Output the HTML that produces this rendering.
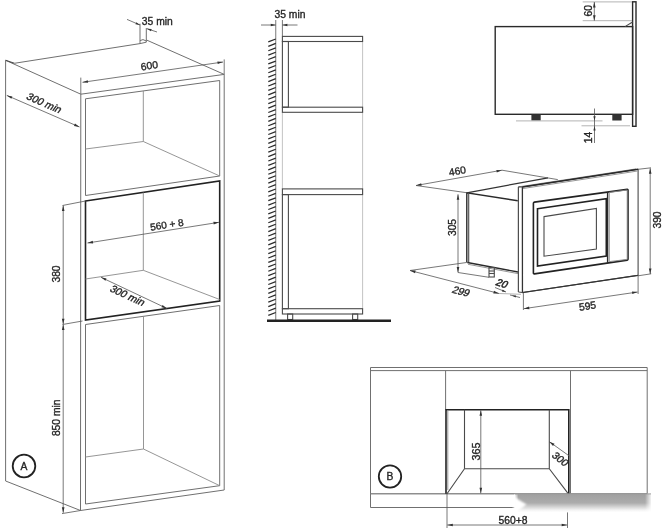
<!DOCTYPE html>
<html><head><meta charset="utf-8"><title>Installation dimensions</title>
<style>
html,body{margin:0;padding:0;background:#fff;}
svg{display:block;will-change:transform;}
text{font-family:"Liberation Sans",sans-serif;fill:#262626;stroke:#262626;stroke-width:.35;}
.thin{stroke:#707070;stroke-width:1;fill:none;}
.lt{stroke:#8a8a8a;stroke-width:.9;fill:none;}
.vvlt{stroke:#bcbcbc;stroke-width:.9;fill:none;}
.vlt{stroke:#aaa;stroke-width:.9;fill:none;}
.mid{stroke:#4a4a4a;stroke-width:1.1;fill:none;}
.dk2{stroke:#333;stroke-width:1.2;fill:none;}
.dark{stroke:#2a2a2a;stroke-width:1.4;fill:none;}
.thick{stroke:#222;stroke-width:1.6;fill:none;}
.dim{stroke:#555;stroke-width:.8;fill:none;}
.hatch{stroke:#2a2a2a;stroke-width:1.25;fill:none;}
.floor{stroke:#222;stroke-width:2.6;fill:none;}
.ah{fill:#333;stroke:none;}
.fill{fill:#333;stroke:none;}
.circ{stroke:#222;stroke-width:1.8;fill:none;}
</style></head><body>
<svg width="664" height="531" viewBox="0 0 664 531">
<defs>
<linearGradient id="sm" x1="0" y1="0" x2="0" y2="1"><stop offset="0" stop-color="#9a9a9a"/><stop offset=".1" stop-color="#a2a2a2"/><stop offset=".5" stop-color="#acacac"/><stop offset=".7" stop-color="#d2d2d2"/><stop offset=".88" stop-color="#f4f4f4"/><stop offset="1" stop-color="#fff"/></linearGradient>
<linearGradient id="fl" x1="0" y1="0" x2="1" y2="0"><stop offset="0" stop-color="#fff" stop-opacity="1"/><stop offset="1" stop-color="#fff" stop-opacity="0"/></linearGradient>
<linearGradient id="fr" x1="0" y1="0" x2="1" y2="0"><stop offset="0" stop-color="#fff" stop-opacity="0"/><stop offset="1" stop-color="#fff" stop-opacity="1"/></linearGradient>
<filter id="bl" x="-10%" y="-30%" width="120%" height="160%"><feGaussianBlur stdDeviation="1.2"/></filter>
</defs>
<rect width="664" height="531" fill="#fff"/>
<path class="thin" d="M80.8,94.2 L5.6,60.3 L5.6,481 L80.5,510.5"/>
<path class="mid" d="M5.6,60.3 L14.3,63.3"/>
<path class="thin" d="M14.3,63.3 L140,43.6"/>
<path class="thin" d="M146.5,40 L224.2,74.4"/>
<path class="thin" d="M140,23.7 L140,43.6 L146.3,42.2 L146.3,28"/>
<path class="thin" d="M140,40.6 L143,39.6 L146.3,41"/>
<path class="thin" d="M80.8,94.2 L224.2,74.4 L224.2,490 L80.5,510.5 L80.8,94.2"/>
<path class="thin" d="M85.5,98.8 L219.7,80.5 L219.7,176 L85.5,195.5 Z"/>
<path class="lt" d="M143.3,91 L143.3,141.5"/>
<path class="lt" d="M85.5,149 L143.3,141.5 L219.7,176"/>
<path class="thick" d="M85.5,201 L219.7,181 L219.7,301 L85.5,320 Z"/>
<path class="lt" d="M143.3,192.5 L143.3,270.3"/>
<path class="lt" d="M85.5,279 L143.3,270.3 L219.7,299.5"/>
<path class="thin" d="M85.5,324.5 L219.7,305.5 L219.7,485.7 L85.5,504 Z"/>
<path class="lt" d="M143.5,316.3 L143.5,449"/>
<path class="lt" d="M85.5,457 L143.5,449 L219.7,485.7"/>
<line class="dim" x1="6.8" y1="95.4" x2="79.5" y2="127"/>
<polygon class="ah" points="6.80,95.40 12.36,96.40 11.33,98.78"/>
<polygon class="ah" points="79.50,127.00 73.94,126.00 74.97,123.62"/>
<text transform="translate(42.3,106) rotate(24) skewX(-12)" font-size="10.3" text-anchor="middle" >300 min</text>
<line class="dim" x1="80.8" y1="77.6" x2="80.8" y2="94.2"/>
<line class="dim" x1="224.2" y1="59.4" x2="224.2" y2="74.4"/>
<line class="dim" x1="82.5" y1="82.3" x2="223" y2="62"/>
<polygon class="ah" points="82.50,82.30 87.76,80.23 88.13,82.80"/>
<polygon class="ah" points="223.00,62.00 217.74,64.07 217.37,61.50"/>
<text transform="translate(149.8,69.2) rotate(-8)" font-size="10.3" text-anchor="middle" >600</text>
<line class="dim" x1="127" y1="19.4" x2="140" y2="25"/>
<polygon class="ah" points="140.00,25.00 135.43,24.23 136.30,22.21"/>
<line class="dim" x1="157" y1="32" x2="147" y2="28.7"/>
<polygon class="ah" points="147.00,28.70 151.62,29.07 150.93,31.15"/>
<text transform="translate(157.3,24.7)" font-size="10.3" text-anchor="middle" >35 min</text>
<line class="dim" x1="62.5" y1="205.5" x2="85.5" y2="201"/>
<line class="dim" x1="62.5" y1="324.5" x2="82.5" y2="321"/>
<line class="dim" x1="62" y1="513.6" x2="80.5" y2="510.5"/>
<line class="dim" x1="63.2" y1="205.5" x2="63.2" y2="324.3"/>
<polygon class="ah" points="63.20,205.50 64.50,211.00 61.90,211.00"/>
<polygon class="ah" points="63.20,324.30 61.90,318.80 64.50,318.80"/>
<line class="dim" x1="63.2" y1="324.6" x2="63.2" y2="512.8"/>
<polygon class="ah" points="63.20,324.60 64.50,330.10 61.90,330.10"/>
<polygon class="ah" points="63.20,512.80 61.90,507.30 64.50,507.30"/>
<text transform="translate(59.5,274) rotate(-90)" font-size="10.3" text-anchor="middle" >380</text>
<text transform="translate(59.5,417.8) rotate(-90)" font-size="10.3" text-anchor="middle" >850 min</text>
<line class="dim" x1="87.5" y1="243" x2="219" y2="222.3"/>
<polygon class="ah" points="87.50,243.00 92.73,240.86 93.14,243.43"/>
<polygon class="ah" points="219.00,222.30 213.77,224.44 213.36,221.87"/>
<text transform="translate(167.3,228.2) rotate(-8.5)" font-size="10" text-anchor="middle" >560 + 8</text>
<line class="dim" x1="101" y1="277.3" x2="167" y2="308.5"/>
<polygon class="ah" points="101.00,277.30 106.53,278.48 105.42,280.83"/>
<polygon class="ah" points="167.00,308.50 161.47,307.32 162.58,304.97"/>
<text transform="translate(125.5,298.5) rotate(25) skewX(-12)" font-size="10.3" text-anchor="middle" >300 min</text>
<circle class="circ" cx="24" cy="466" r="11.3"/>
<text transform="translate(24,469.8)" font-size="10.3" text-anchor="middle" >A</text>
<line class="dim" x1="275.75" y1="20" x2="275.75" y2="320"/>
<line class="hatch" x1="268.3" y1="41.9" x2="275.75" y2="39.0"/>
<line class="hatch" x1="268.3" y1="46.31" x2="275.75" y2="43.41"/>
<line class="hatch" x1="268.3" y1="50.72" x2="275.75" y2="47.82"/>
<line class="hatch" x1="268.3" y1="55.13" x2="275.75" y2="52.23"/>
<line class="hatch" x1="268.3" y1="59.54" x2="275.75" y2="56.64"/>
<line class="hatch" x1="268.3" y1="63.95" x2="275.75" y2="61.05"/>
<line class="hatch" x1="268.3" y1="68.37" x2="275.75" y2="65.47"/>
<line class="hatch" x1="268.3" y1="72.78" x2="275.75" y2="69.88"/>
<line class="hatch" x1="268.3" y1="77.19" x2="275.75" y2="74.29"/>
<line class="hatch" x1="268.3" y1="81.6" x2="275.75" y2="78.7"/>
<line class="hatch" x1="268.3" y1="86.01" x2="275.75" y2="83.11"/>
<line class="hatch" x1="268.3" y1="90.42" x2="275.75" y2="87.52"/>
<line class="hatch" x1="268.3" y1="94.83" x2="275.75" y2="91.93"/>
<line class="hatch" x1="268.3" y1="99.24" x2="275.75" y2="96.34"/>
<line class="hatch" x1="268.3" y1="103.65" x2="275.75" y2="100.75"/>
<line class="hatch" x1="268.3" y1="108.06" x2="275.75" y2="105.16"/>
<line class="hatch" x1="268.3" y1="112.48" x2="275.75" y2="109.58"/>
<line class="hatch" x1="268.3" y1="116.89" x2="275.75" y2="113.99"/>
<line class="hatch" x1="268.3" y1="121.3" x2="275.75" y2="118.4"/>
<line class="hatch" x1="268.3" y1="125.71" x2="275.75" y2="122.81"/>
<line class="hatch" x1="268.3" y1="130.12" x2="275.75" y2="127.22"/>
<line class="hatch" x1="268.3" y1="134.53" x2="275.75" y2="131.63"/>
<line class="hatch" x1="268.3" y1="138.94" x2="275.75" y2="136.04"/>
<line class="hatch" x1="268.3" y1="143.35" x2="275.75" y2="140.45"/>
<line class="hatch" x1="268.3" y1="147.76" x2="275.75" y2="144.86"/>
<line class="hatch" x1="268.3" y1="152.17" x2="275.75" y2="149.27"/>
<line class="hatch" x1="268.3" y1="156.59" x2="275.75" y2="153.69"/>
<line class="hatch" x1="268.3" y1="161.0" x2="275.75" y2="158.1"/>
<line class="hatch" x1="268.3" y1="165.41" x2="275.75" y2="162.51"/>
<line class="hatch" x1="268.3" y1="169.82" x2="275.75" y2="166.92"/>
<line class="hatch" x1="268.3" y1="174.23" x2="275.75" y2="171.33"/>
<line class="hatch" x1="268.3" y1="178.64" x2="275.75" y2="175.74"/>
<line class="hatch" x1="268.3" y1="183.05" x2="275.75" y2="180.15"/>
<line class="hatch" x1="268.3" y1="187.46" x2="275.75" y2="184.56"/>
<line class="hatch" x1="268.3" y1="191.87" x2="275.75" y2="188.97"/>
<line class="hatch" x1="268.3" y1="196.28" x2="275.75" y2="193.38"/>
<line class="hatch" x1="268.3" y1="200.7" x2="275.75" y2="197.8"/>
<line class="hatch" x1="268.3" y1="205.11" x2="275.75" y2="202.21"/>
<line class="hatch" x1="268.3" y1="209.52" x2="275.75" y2="206.62"/>
<line class="hatch" x1="268.3" y1="213.93" x2="275.75" y2="211.03"/>
<line class="hatch" x1="268.3" y1="218.34" x2="275.75" y2="215.44"/>
<line class="hatch" x1="268.3" y1="222.75" x2="275.75" y2="219.85"/>
<line class="hatch" x1="268.3" y1="227.16" x2="275.75" y2="224.26"/>
<line class="hatch" x1="268.3" y1="231.57" x2="275.75" y2="228.67"/>
<line class="hatch" x1="268.3" y1="235.98" x2="275.75" y2="233.08"/>
<line class="hatch" x1="268.3" y1="240.39" x2="275.75" y2="237.49"/>
<line class="hatch" x1="268.3" y1="244.81" x2="275.75" y2="241.91"/>
<line class="hatch" x1="268.3" y1="249.22" x2="275.75" y2="246.32"/>
<line class="hatch" x1="268.3" y1="253.63" x2="275.75" y2="250.73"/>
<line class="hatch" x1="268.3" y1="258.04" x2="275.75" y2="255.14"/>
<line class="hatch" x1="268.3" y1="262.45" x2="275.75" y2="259.55"/>
<line class="hatch" x1="268.3" y1="266.86" x2="275.75" y2="263.96"/>
<line class="hatch" x1="268.3" y1="271.27" x2="275.75" y2="268.37"/>
<line class="hatch" x1="268.3" y1="275.68" x2="275.75" y2="272.78"/>
<line class="hatch" x1="268.3" y1="280.09" x2="275.75" y2="277.19"/>
<line class="hatch" x1="268.3" y1="284.5" x2="275.75" y2="281.61"/>
<line class="hatch" x1="268.3" y1="288.92" x2="275.75" y2="286.02"/>
<line class="hatch" x1="268.3" y1="293.33" x2="275.75" y2="290.43"/>
<line class="hatch" x1="268.3" y1="297.74" x2="275.75" y2="294.84"/>
<line class="hatch" x1="268.3" y1="302.15" x2="275.75" y2="299.25"/>
<line class="hatch" x1="268.3" y1="306.56" x2="275.75" y2="303.66"/>
<line class="hatch" x1="268.3" y1="310.97" x2="275.75" y2="308.07"/>
<line class="hatch" x1="268.3" y1="315.38" x2="275.75" y2="312.48"/>
<line class="dim" x1="282.4" y1="20" x2="282.4" y2="36"/>
<line class="vvlt" x1="282.4" y1="112" x2="282.4" y2="189"/>
<line class="vvlt" x1="362.6" y1="41" x2="362.6" y2="308.75"/>
<rect class="mid" x="282.4" y="36.4" width="80.20000000000005" height="5.100000000000001"/>
<rect class="mid" x="282.4" y="41.5" width="6.0" height="65.7"/>
<rect class="mid" x="282.4" y="107.2" width="80.20000000000005" height="5.099999999999994"/>
<rect class="mid" x="282.4" y="188.9" width="80.20000000000005" height="5.699999999999989"/>
<rect class="mid" x="282.4" y="194.6" width="6.0" height="114.1"/>
<rect class="mid" x="282.4" y="308.7" width="80.20000000000005" height="5.300000000000011"/>
<rect class="mid" x="287.6" y="314" width="5.099999999999966" height="5.5"/>
<rect class="mid" x="352.6" y="314" width="5.099999999999966" height="5.5"/>
<line class="floor" x1="267" y1="320.7" x2="391" y2="320.7"/>
<line class="dim" x1="261" y1="25" x2="275.75" y2="25"/>
<polygon class="ah" points="275.75,25.00 270.75,26.20 270.75,23.80"/>
<line class="dim" x1="282.4" y1="25" x2="297.5" y2="25"/>
<polygon class="ah" points="282.40,25.00 287.40,23.80 287.40,26.20"/>
<text transform="translate(290,18)" font-size="10.3" text-anchor="middle" >35 min</text>
<rect class="dark" x="495.2" y="26.6" width="137.40000000000003" height="87.69999999999999"/>
<rect class="dark" x="632.6" y="1.8" width="3.3999999999999773" height="124.5"/>
<line class="mid" x1="625" y1="26.6" x2="632.6" y2="22"/>
<rect class="fill" x="531.4" y="114.3" width="9.3" height="6.2"/>
<rect class="fill" x="612.3" y="114.3" width="9.3" height="6.2"/>
<line class="vlt" x1="582.7" y1="1.9" x2="632" y2="1.9"/>
<line class="vlt" x1="582.7" y1="20.7" x2="632" y2="20.7"/>
<line class="dim" x1="594.3" y1="2" x2="594.3" y2="20.7"/>
<polygon class="ah" points="594.30,2.00 595.60,7.50 593.00,7.50"/>
<polygon class="ah" points="594.30,20.70 593.00,15.20 595.60,15.20"/>
<text transform="translate(591.6,10.8) rotate(-90)" font-size="10.3" text-anchor="middle" >60</text>
<line class="vlt" x1="516" y1="120.9" x2="602.5" y2="120.9"/>
<line class="vlt" x1="581.5" y1="125.8" x2="630" y2="125.8"/>
<line class="dim" x1="594.5" y1="108.5" x2="594.5" y2="143"/>
<polygon class="ah" points="594.50,120.70 593.40,116.20 595.60,116.20"/>
<polygon class="ah" points="594.50,126.00 595.60,130.50 593.40,130.50"/>
<text transform="translate(591.8,137.5) rotate(-90)" font-size="10.3" text-anchor="middle" >14</text>
<path class="dark" d="M466.8,262.5 L466.8,192.8 L517.8,200.8"/>
<line class="mid" x1="468.7" y1="193.5" x2="468.7" y2="263"/>
<path class="dk2" d="M466.8,192.8 L548,177.8"/>
<path class="dim" d="M502,170.2 L557.8,179.6"/>
<path class="dark" d="M467.3,262.5 L518,272"/>
<path class="lt" d="M468,264.3 L518,273.6"/>
<rect class="mid" x="489" y="267.5" width="5.300000000000011" height="9.5"/>
<line class="mid" x1="489" y1="271" x2="494.3" y2="271"/>
<line class="mid" x1="489" y1="273.5" x2="494.3" y2="273.5"/>
<path class="lt" d="M518.4,292 L518.4,186.9 L636,168.9"/>
<line class="mid" x1="518.4" y1="186.9" x2="518.4" y2="292"/>
<path class="mid" d="M522.4,187 L638.1,169.3 L638.1,275.3 L522.5,292.5 Z"/>
<path class="dark" d="M522.4,187 L638.1,169.3"/>
<path class="dk2" d="M638.1,275.3 L522.5,292.5"/>
<line class="dk2" x1="522.45" y1="187" x2="522.45" y2="292.5"/>
<path class="lt" d="M523,188.5 L637.5,171"/>
<path class="mid" d="M518.4,292 L522.5,292.5"/>
<path class="mid" d="M518.4,186.9 L522.4,187"/>
<path class="thick" stroke-linejoin="round" d="M534.4,202.1 L627.3,189.4 Q628,189.3 628,190 L628,259.3 Q628,260 627.3,260.1 L534.4,273.9 Q533.4,274 533.4,273 L533.4,203.2 Q533.4,202.3 534.4,202.1 Z"/>
<path class="thick" d="M537.5,208.8 L606.3,198.7 L606.3,256 L537.5,266 Z"/>
<path class="mid" d="M544,216.6 L596.4,208.5 L596.4,249 L544,256.2 Z"/>
<path class="lt" d="M609.3,192.4 L627.2,190 L627.2,259.4 L609.3,261.6 Z"/>
<line class="dark" x1="607.6" y1="192.3" x2="607.6" y2="263"/>
<line class="dim" x1="416" y1="185.5" x2="502" y2="170.2"/>
<polygon class="ah" points="416.00,185.50 421.19,183.26 421.64,185.82"/>
<polygon class="ah" points="502.00,170.20 496.81,172.44 496.36,169.88"/>
<text transform="translate(458,174.5) rotate(-10)" font-size="10.3" text-anchor="middle" >460</text>
<line class="dim" x1="416" y1="185.5" x2="467.3" y2="192.8"/>
<line class="dim" x1="458" y1="194.3" x2="458" y2="272.5"/>
<polygon class="ah" points="458.00,194.30 459.30,199.80 456.70,199.80"/>
<polygon class="ah" points="458.00,272.50 456.70,267.00 459.30,267.00"/>
<text transform="translate(455.6,227.5) rotate(-90)" font-size="10.3" text-anchor="middle" >305</text>
<line class="dim" x1="458" y1="272.5" x2="489" y2="277.3"/>
<line class="dim" x1="410" y1="270.5" x2="466.5" y2="262.5"/>
<line class="dim" x1="410" y1="270.5" x2="499" y2="293.5"/>
<polygon class="ah" points="410.00,270.50 415.65,270.62 415.00,273.13"/>
<polygon class="ah" points="499.00,293.50 493.35,293.38 494.00,290.87"/>
<line class="vlt" x1="499" y1="293.5" x2="521" y2="294.3"/>
<text transform="translate(459.5,294.6) rotate(14) skewX(-14)" font-size="10.3" text-anchor="middle" >299</text>
<text transform="translate(500.3,286.6) rotate(18) skewX(-14)" font-size="10.3" text-anchor="middle" style="stroke-width:.5">20</text>
<line class="dim" x1="495" y1="287.5" x2="506" y2="292"/>
<polygon class="ah" points="506.00,292.00 501.88,291.50 502.71,289.47"/>
<line class="dim" x1="520" y1="297.5" x2="510" y2="295"/>
<polygon class="ah" points="512.00,295.50 516.15,295.40 515.61,297.54"/>
<line class="dim" x1="523.4" y1="293" x2="523.4" y2="310"/>
<line class="dim" x1="638.1" y1="275.3" x2="638.1" y2="294"/>
<line class="dim" x1="523.8" y1="308.7" x2="637.6" y2="292"/>
<polygon class="ah" points="523.80,308.70 529.05,306.62 529.43,309.19"/>
<polygon class="ah" points="637.60,292.00 632.35,294.08 631.97,291.51"/>
<text transform="translate(588,309.5) rotate(-8)" font-size="10.3" text-anchor="middle" >595</text>
<line class="dim" x1="638.1" y1="169.3" x2="651" y2="167.8"/>
<line class="dim" x1="638.1" y1="275.8" x2="651.2" y2="273.8"/>
<line class="dim" x1="650.2" y1="168.2" x2="650.2" y2="274"/>
<polygon class="ah" points="650.20,168.20 651.50,173.70 648.90,173.70"/>
<polygon class="ah" points="650.20,274.00 648.90,268.50 651.50,268.50"/>
<text transform="translate(660.6,220) rotate(-90)" font-size="10.3" text-anchor="middle" >390</text>
<path class="thin" d="M370.5,507.5 L370.5,367.5 L647.2,367.5 L647.2,493.7"/>
<line class="thin" x1="370.5" y1="370.6" x2="647.2" y2="370.6"/>
<line class="thin" x1="370.5" y1="493.75" x2="647.2" y2="493.75"/>
<line class="thin" x1="370.5" y1="507.5" x2="560" y2="507.5"/>
<line class="lt" x1="370.5" y1="493.75" x2="514" y2="493.75"/>
<line class="thin" x1="445.6" y1="370.6" x2="445.6" y2="409.7"/>
<line class="thin" x1="570.5" y1="370.6" x2="570.5" y2="493.7"/>
<path class="thick" d="M446,493.7 L446,409.7 L568.8,409.7 L568.8,493.7"/>
<line class="lt" x1="447.8" y1="410" x2="447.8" y2="490"/>
<path class="mid" d="M447,493.7 L464.5,468.7 L549.3,468.7 L568.2,493.7"/>
<line class="mid" x1="464.5" y1="409.7" x2="464.5" y2="468.7"/>
<line class="mid" x1="549.3" y1="409.7" x2="549.3" y2="468.7"/>
<line class="dim" x1="480.8" y1="410.2" x2="480.8" y2="493.3"/>
<polygon class="ah" points="480.80,410.20 482.10,415.70 479.50,415.70"/>
<polygon class="ah" points="480.80,493.30 479.50,487.80 482.10,487.80"/>
<text transform="translate(479.8,451.5) rotate(-90)" font-size="10.8" text-anchor="middle" >365</text>
<line class="dim" x1="549.3" y1="441.7" x2="569.3" y2="456"/>
<polygon class="ah" points="549.30,441.70 554.53,443.84 553.02,445.96"/>
<text transform="translate(557.8,461.5) rotate(38) skewX(-10)" font-size="10.3" text-anchor="middle" >300</text>
<line class="dim" x1="447" y1="493.7" x2="447" y2="528"/>
<line class="dim" x1="567.5" y1="493.7" x2="567.5" y2="528"/>
<line class="dim" x1="447.3" y1="525" x2="567.2" y2="525"/>
<polygon class="ah" points="447.30,525.00 452.80,523.70 452.80,526.30"/>
<polygon class="ah" points="567.20,525.00 561.70,526.30 561.70,523.70"/>
<text transform="translate(513,523.6)" font-size="10.3" text-anchor="middle" >560+8</text>
<circle class="circ" cx="390" cy="476.5" r="11.2"/>
<text transform="translate(390,480.3)" font-size="10.3" text-anchor="middle" >B</text>
<rect x="515" y="493.4" width="136" height="19" fill="url(#sm)"/>
<rect x="514.5" y="494.6" width="4" height="18.5" fill="url(#fl)"/>
<rect x="645" y="494.4" width="7" height="19" fill="url(#fr)"/>
<polygon points="513.5,496.5 526.5,504.5 516,513 513.5,513" fill="#fff" filter="url(#bl)"/>
<line x1="567.5" y1="494" x2="567.5" y2="508" stroke="#777" stroke-width="1.6" opacity=".35" filter="url(#bl)"/>
</svg>
</body></html>
